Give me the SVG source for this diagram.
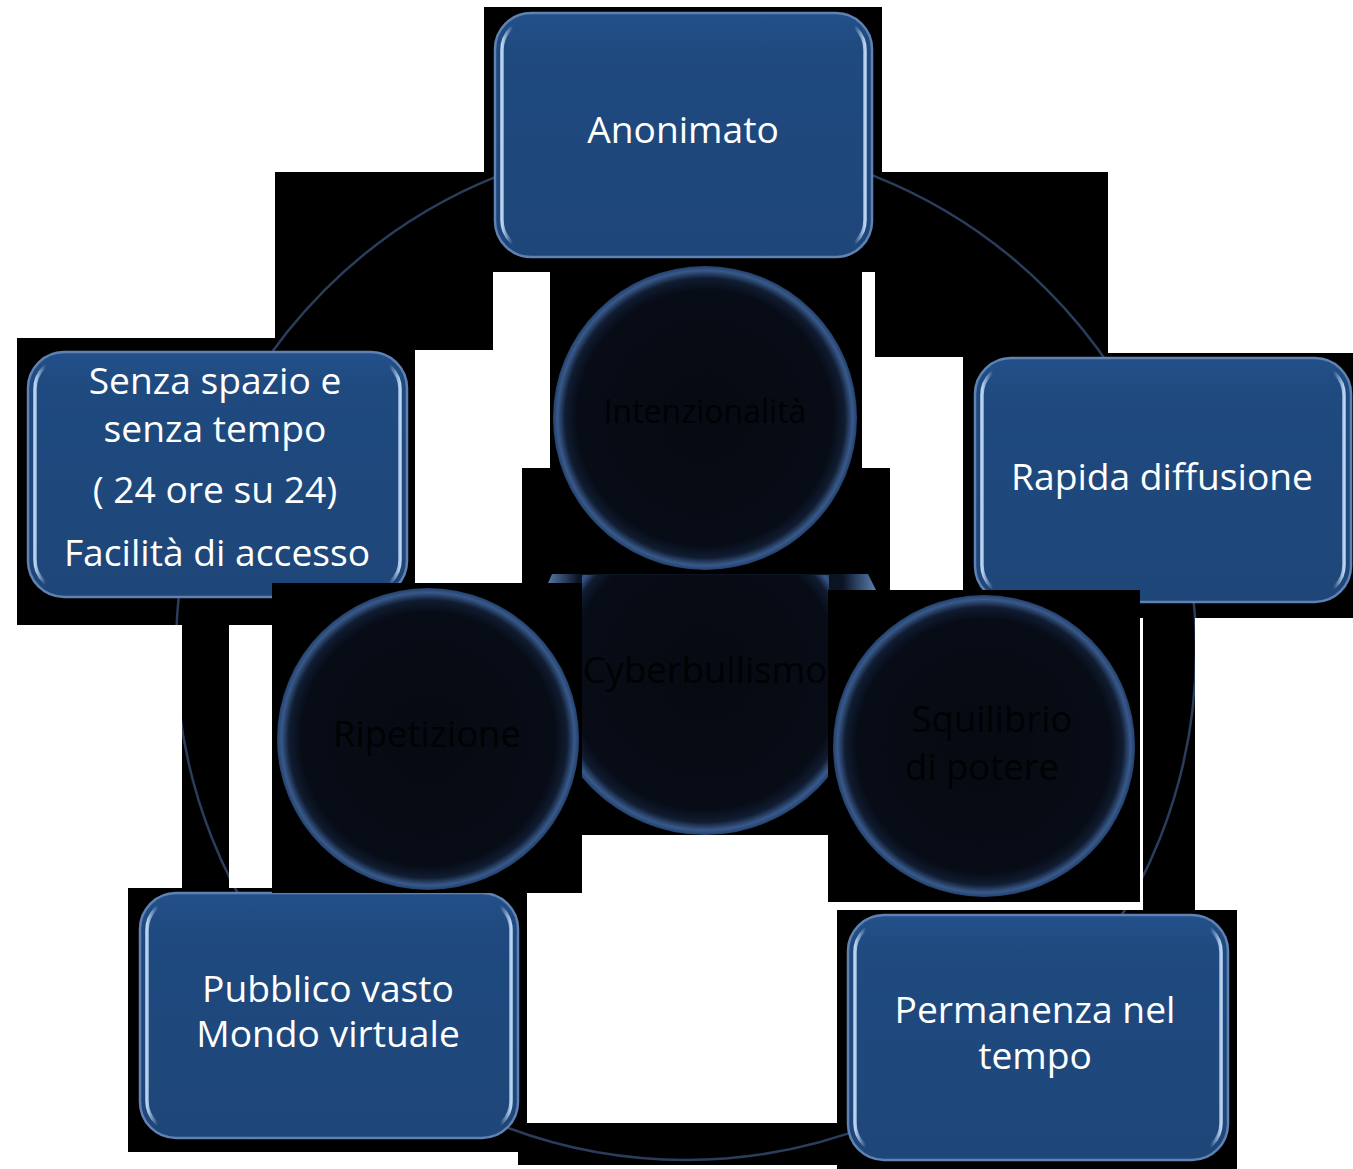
<svg xmlns="http://www.w3.org/2000/svg" width="1353" height="1169" viewBox="0 0 1353 1169">
  <defs>
    <style>
      .blk { fill: #000000; }
      .box { fill: url(#boxFill); stroke: #5f82b3; stroke-width: 2.5; }
      .hl { fill: none; stroke: url(#hlGrad); stroke-width: 3.5; }
      .orb { fill: url(#orbGrad); }
      .t { font-family: "Open Sans", "Noto Sans", "Liberation Sans", sans-serif; font-size: 37.2px; fill: #ffffff; text-anchor: middle; }
      .d { font-family: "Open Sans", "Noto Sans", "Liberation Sans", sans-serif; font-size: 36.5px; fill: #010204; text-anchor: middle; }
      .ring { fill: none; stroke: #2b3d5c; stroke-width: 2.5; }
    </style>
    <linearGradient id="boxFill" x1="0" y1="0" x2="0" y2="1">
      <stop offset="0" stop-color="#23508a"/>
      <stop offset="0.15" stop-color="#1f4a7f"/>
      <stop offset="1" stop-color="#1e4679"/>
    </linearGradient>
    <linearGradient id="hlGrad" x1="0" y1="0" x2="1" y2="0">
      <stop offset="0" stop-color="#c4dcf8" stop-opacity="0.95"/>
      <stop offset="0.03" stop-color="#c4dcf8" stop-opacity="0"/>
      <stop offset="0.97" stop-color="#c4dcf8" stop-opacity="0"/>
      <stop offset="1" stop-color="#c4dcf8" stop-opacity="0.95"/>
    </linearGradient>
    <radialGradient id="orbGrad" cx="0.5" cy="0.5" r="0.5">
      <stop offset="0" stop-color="#060a12"/>
      <stop offset="0.84" stop-color="#070c16"/>
      <stop offset="0.92" stop-color="#101c31"/>
      <stop offset="0.97" stop-color="#38598a"/>
      <stop offset="1" stop-color="#23406b"/>
    </radialGradient>
    <linearGradient id="barGrad" x1="0" y1="0" x2="1" y2="0">
      <stop offset="0" stop-color="#5a80b4"/>
      <stop offset="0.1" stop-color="#0c1424"/>
      <stop offset="0.9" stop-color="#0c1424"/>
      <stop offset="1" stop-color="#5a80b4"/>
    </linearGradient>
    <clipPath id="ringClip">
      <rect x="484" y="7" width="398" height="265"/>
      <rect x="275" y="172" width="218" height="178"/>
      <rect x="875" y="172" width="233" height="185"/>
      <rect x="17" y="338" width="398" height="287"/>
      <rect x="963" y="353" width="390" height="265"/>
      <rect x="182" y="625" width="47" height="263"/>
      <rect x="1143" y="618" width="52" height="292"/>
      <rect x="128" y="888" width="399" height="264"/>
      <rect x="518" y="1123" width="320" height="42"/>
      <rect x="837" y="910" width="400" height="259"/>
    </clipPath>
    <clipPath id="centerClip">
      <rect x="582" y="575" width="247" height="260"/>
    </clipPath>
  </defs>

  <rect x="0" y="0" width="1353" height="1169" fill="#ffffff"/>

  <g id="background">
    <rect class="blk" x="484" y="7" width="398" height="265"/>
    <rect class="blk" x="275" y="172" width="218" height="178"/>
    <rect class="blk" x="875" y="172" width="233" height="185"/>
    <rect class="blk" x="17" y="338" width="398" height="287"/>
    <rect class="blk" x="963" y="353" width="390" height="265"/>
    <rect class="blk" x="522" y="468" width="368" height="122"/>
    <rect class="blk" x="182" y="625" width="47" height="263"/>
    <rect class="blk" x="1143" y="618" width="52" height="292"/>
    <rect class="blk" x="128" y="888" width="399" height="264"/>
    <rect class="blk" x="518" y="1123" width="320" height="42"/>
    <rect class="blk" x="837" y="910" width="400" height="259"/>
  </g>

  <g id="connectors">
    <circle class="ring" cx="686" cy="650" r="510" clip-path="url(#ringClip)"/>
  </g>

  <g id="node-anonimato">
    <rect class="box" x="495" y="13" width="377" height="244" rx="36"/>
    <rect class="hl" x="502" y="20" width="363" height="230" rx="30"/>
    <text class="t" x="683" y="143">Anonimato</text>
  </g>

  <g id="node-senza-spazio">
    <rect class="box" x="28" y="352" width="379" height="245" rx="36"/>
    <rect class="hl" x="35" y="359" width="365" height="231" rx="30"/>
    <text class="t" x="215" y="394">Senza spazio e</text>
    <text class="t" x="215" y="442">senza tempo</text>
    <text class="t" x="215" y="503">( 24 ore su 24)</text>
    <text class="t" x="217" y="566">Facilità di accesso</text>
  </g>

  <g id="node-rapida">
    <rect class="box" x="975" y="358" width="376" height="244" rx="36"/>
    <rect class="hl" x="982" y="365" width="362" height="230" rx="30"/>
    <text class="t" x="1162" y="490">Rapida diffusione</text>
  </g>

  <g id="node-pubblico">
    <rect class="box" x="140" y="893" width="378" height="245" rx="36"/>
    <rect class="hl" x="147" y="900" width="364" height="231" rx="30"/>
    <text class="t" x="328" y="1002">Pubblico vasto</text>
    <text class="t" x="328" y="1047">Mondo virtuale</text>
  </g>

  <g id="node-permanenza">
    <rect class="box" x="848" y="915" width="380" height="245" rx="36"/>
    <rect class="hl" x="855" y="922" width="366" height="231" rx="30"/>
    <text class="t" x="1035" y="1023">Permanenza nel</text>
    <text class="t" x="1035" y="1069">tempo</text>
  </g>

  <g id="node-intenzionalita">
    <rect class="blk" x="550" y="272" width="312" height="303"/>
    <circle class="orb" cx="705" cy="418" r="152"/>
    <text class="d" x="705" y="423" style="font-size:32px">Intenzionalità</text>
  </g>

  <g id="node-cyberbullismo">
    <path d="M545,590 L552,574 L868,574 L876,590 Z" fill="url(#barGrad)"/>
    <rect class="blk" x="582" y="575" width="247" height="260"/>
    <g clip-path="url(#centerClip)">
      <circle class="orb" cx="705" cy="675" r="160"/>
    </g>
    <text class="d" x="705" y="683">Cyberbullismo</text>
  </g>

  <g id="node-ripetizione">
    <rect class="blk" x="272" y="583" width="310" height="310"/>
    <circle class="orb" cx="428" cy="739" r="151"/>
    <text class="d" x="427" y="747">Ripetizione</text>
  </g>

  <g id="node-squilibrio">
    <rect class="blk" x="828" y="590" width="312" height="312"/>
    <circle class="orb" cx="984" cy="746" r="151"/>
    <text class="d" x="992" y="732">Squilibrio</text>
    <text class="d" x="982" y="780">di potere</text>
  </g>
</svg>
